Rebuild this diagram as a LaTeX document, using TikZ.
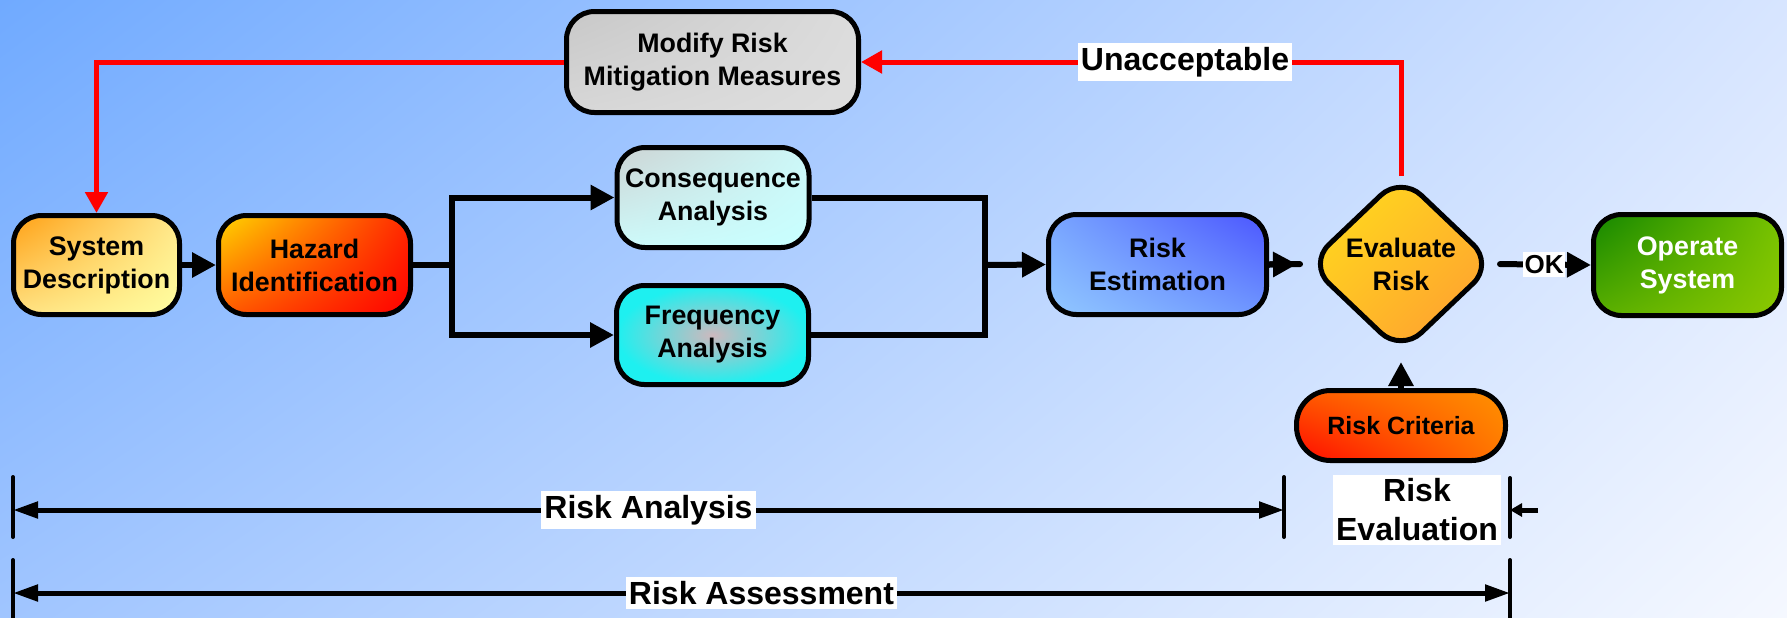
\documentclass[tikz,border=0pt]{standalone}
\usepackage{fontspec}
\setmainfont{Liberation Sans}
\usetikzlibrary{arrows.meta,shapes.geometric,calc,shadings}

% background
\definecolor{bgUL}{RGB}{112,170,255}
\definecolor{bgUR}{RGB}{215,229,255}
\definecolor{bgLL}{RGB}{160,197,255}
\definecolor{bgLR}{RGB}{245,248,255}
% box fills
\definecolor{sysUL}{RGB}{255,160,20}
\definecolor{sysUR}{RGB}{255,232,140}
\definecolor{sysLL}{RGB}{255,225,130}
\definecolor{sysLR}{RGB}{255,255,160}
\definecolor{hazUL}{RGB}{255,215,0}
\definecolor{hazUR}{RGB}{255,40,0}
\definecolor{hazLL}{RGB}{255,90,0}
\definecolor{hazLR}{RGB}{255,0,0}
\definecolor{conUL}{RGB}{205,212,212}
\definecolor{conUR}{RGB}{205,248,248}
\definecolor{conLL}{RGB}{205,250,250}
\definecolor{conLR}{RGB}{200,255,255}
\definecolor{freIn}{RGB}{205,185,190}
\definecolor{freOut}{RGB}{30,240,240}
\definecolor{estUL}{RGB}{120,165,255}
\definecolor{estUR}{RGB}{75,85,255}
\definecolor{estLL}{RGB}{145,200,255}
\definecolor{estLR}{RGB}{110,150,255}
\definecolor{evUL}{RGB}{255,225,25}
\definecolor{evUR}{RGB}{255,190,40}
\definecolor{evLL}{RGB}{255,190,40}
\definecolor{evLR}{RGB}{255,150,50}
\definecolor{opUL}{RGB}{20,135,0}
\definecolor{opUR}{RGB}{120,195,0}
\definecolor{opLL}{RGB}{90,175,0}
\definecolor{opLR}{RGB}{140,200,0}
\definecolor{crUL}{RGB}{255,90,0}
\definecolor{crUR}{RGB}{255,145,0}
\definecolor{crLL}{RGB}{255,10,0}
\definecolor{crLR}{RGB}{255,120,0}
\definecolor{modUL}{RGB}{200,200,200}
\definecolor{modUR}{RGB}{220,220,220}
\definecolor{modLL}{RGB}{215,215,215}
\definecolor{modLR}{RGB}{222,222,222}
\definecolor{loopred}{RGB}{255,0,0}

\begin{document}
\begin{tikzpicture}[x=0.5pt,y=-0.5pt,
  txt/.style={font=\fontsize{13.4pt}{16.5pt}\selectfont\bfseries, align=center},
  box/.style={draw=black, line width=2.5pt, rounded corners=14pt, inner sep=0pt, txt},
  conn/.style={line width=3pt},
  bigtip/.style={-{Triangle[length=12pt,width=12pt]}},
  redline/.style={draw=loopred, line width=2.5pt, line join=miter,
                  -{Triangle[length=10.5pt,width=11pt]}},
  dim/.style={line width=2.5pt},
  dimtips/.style={{Triangle[length=12.5pt,width=8pt]}-{Triangle[length=12.5pt,width=8pt]}},
  tick/.style={line width=2pt, line cap=round},
  tag/.style={fill=white, inner xsep=1.5pt, inner ysep=2pt,
              font=\fontsize{16pt}{19.5pt}\selectfont\bfseries, align=center},
  oktag/.style={fill=white, inner xsep=0.75pt, inner ysep=1.5pt,
                font=\fontsize{13pt}{15pt}\selectfont\bfseries}
]
% backdrop
\shade[upper left=bgUL, upper right=bgUR, lower left=bgLL, lower right=bgLR]
  (0,0) rectangle (1787,617);
\useasboundingbox (0,0) rectangle (1787,617);

% process boxes
\node[box, minimum width=146pt, minimum height=50.5pt,
      upper left=modUL, upper right=modUR, lower left=modLL, lower right=modLR]
  (mod) at (712.5,62) {Modify Risk\\Mitigation Measures};
\node[box, minimum width=83pt, minimum height=49.5pt,
      upper left=sysUL, upper right=sysUR, lower left=sysLL, lower right=sysLR]
  (sys) at (96.5,265) {System\\Description};
\node[box, minimum width=96pt, minimum height=49.5pt,
      upper left=hazUL, upper right=hazUR, lower left=hazLL, lower right=hazLR]
  (haz) at (314.5,265) {Hazard\\Identification};
\node[box, minimum width=96pt, minimum height=50pt,
      upper left=conUL, upper right=conUR, lower left=conLL, lower right=conLR]
  (con) at (713,197.5) {Consequence\\Analysis};
\node[box, minimum width=96pt, minimum height=49.5pt,
      inner color=freIn, outer color=freOut]
  (fre) at (712.5,335) {Frequency\\Analysis};
\node[box, minimum width=109pt, minimum height=50pt,
      upper left=estUL, upper right=estUR, lower left=estLL, lower right=estLR]
  (est) at (1157.5,264.5) {Risk\\Estimation};
\node[box, diamond, outer sep=0pt, minimum width=92.5pt, minimum height=88pt,
      upper left=evUL, upper right=evUR, lower left=evLL, lower right=evLR]
  (eval) at (1401,264) {};
\node[txt] (evaltxt) at (eval.center) {Evaluate\\Risk};
\node[box, text=white, minimum width=94pt, minimum height=50.5pt,
      upper left=opUL, upper right=opUR, lower left=opLL, lower right=opLR]
  (op) at (1687.5,265) {Operate\\System};
\node[box, rounded corners=17pt, minimum width=104.5pt, minimum height=35pt,
      font=\fontsize{12.5pt}{15pt}\selectfont\bfseries,
      upper left=crUL, upper right=crUR, lower left=crLL, lower right=crLR]
  (crit) at (1401,425.5) {Risk Criteria};

% main flow
\draw[conn, bigtip] (sys.east) -- (haz.west);
\coordinate (split) at (452,265);
\draw[conn] (haz.east) -- (split);
\draw[conn, bigtip, line join=miter] (split) |- (con.west);
\draw[conn, bigtip, line join=miter] (split) |- (fre.west);
\coordinate (merge) at (985,265);
\draw[conn, line join=miter] (con.east) -| (merge);
\draw[conn, line join=miter] (fre.east) -| (merge);
\draw[conn, bigtip] (merge) -- (est.west);
\draw[conn, line cap=round, shorten >=4.25pt] (est.east) -- (eval.west);
\draw[conn, bigtip, shorten >=5.75pt] (est.east) -- (eval.west);
\draw[conn, line cap=round, bigtip, shorten <=3.25pt] (eval.east)
  -- node[pos=0.52, oktag] (ok) {OK} (op.west);
\draw[conn, bigtip, shorten >=5pt] (crit.north) -- (eval.south);

% feedback loop
\coordinate (turn) at (eval.north |- mod.east);
\draw[redline] (eval.north) -- (turn)
  -- node[pos=0.4, tag] (unacc) {Unacceptable} (mod.east);
\draw[redline] (mod.west) -| (sys.north);

% extent markers
\coordinate (aL) at (13,510);
\coordinate (aR) at (1284,510);
\coordinate (eR) at (1510,510);
\coordinate (sL) at (13,593);
\coordinate (sR) at (1510,593);
\draw[tick] (aL) ++(0,-33) -- ++(0,60);
\draw[tick] (aR) ++(0,-33) -- ++(0,60);
\draw[tick] (eR) ++(0,-32) -- ++(0,59);
\draw[tick] (sL) ++(0,-33) -- ++(0,70);
\draw[tick] (sR) ++(0,-33) -- ++(0,70);
\draw[dim, dimtips] (aL) -- node[tag] (ra) {Risk Analysis} (aR);
\draw[dim, dimtips] (sL) -- node[tag] (rs) {Risk Assessment} (sR);
\node[tag] (re) at (1417,510) {Risk\\Evaluation};
\draw[dim, -{Triangle[length=6pt,width=6.5pt]}] ($(eR)+(28,0)$) -- (eR);
\end{tikzpicture}
\end{document}
